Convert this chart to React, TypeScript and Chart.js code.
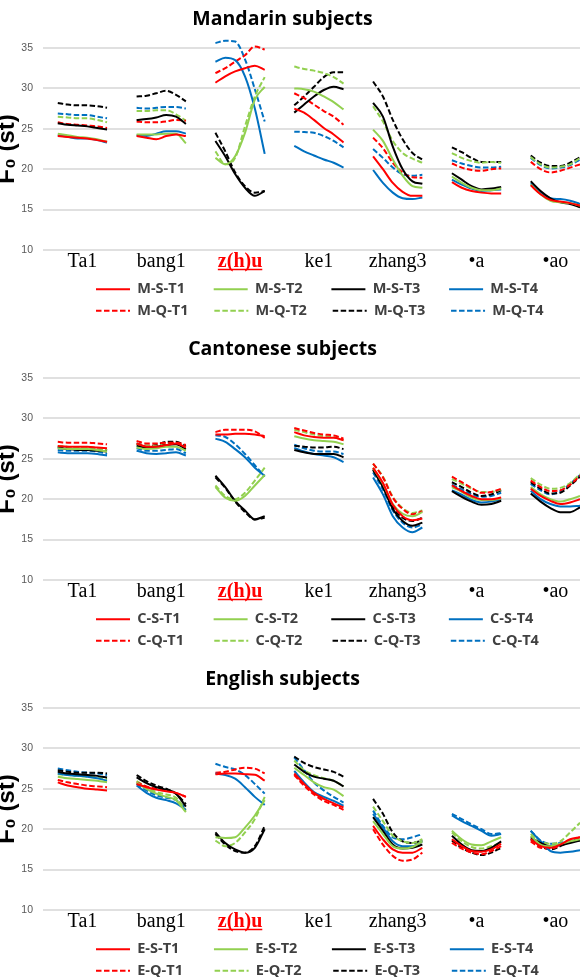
import React, { useEffect, useRef } from 'react';
import { Chart, registerables } from 'chart.js';

Chart.register(...registerables);

// ---------- categories / ticks ----------
const syllables = ['Ta1', 'bang1', 'z(h)u', 'ke1', 'zhang3', '•a', '•ao'];
const highlightIndex = 2;
const yTickValues = [10, 15, 20, 25, 30, 35];
const seriesKeys = ['S-T1', 'S-T2', 'S-T3', 'S-T4', 'Q-T1', 'Q-T2', 'Q-T3', 'Q-T4'];
const panelTitles = ['Mandarin subjects', 'Cantonese subjects', 'English subjects'];
const panelPrefixes = ['M', 'C', 'E'];

// ---------- Mandarin (rows = syllables, 6 samples each) ----------
const M_S_T1 = [
  [24.1, 24.0, 23.9, 23.8, 23.6, 23.4],
  [24.1, 23.9, 23.7, 24.1, 24.3, 24.1],
  [30.7, 31.5, 32.1, 32.5, 32.8, 32.3],
  [27.5, 27.0, 26.1, 25.1, 24.3, 23.3],
  [21.6, 20.0, 18.3, 17.2, 16.7, 16.7],
  [18.4, 17.7, 17.3, 17.1, 17.0, 17.0],
  [18.0, 16.9, 16.2, 16.0, 15.8, 15.5],
];
const M_S_T2 = [
  [24.4, 24.2, 24.0, 23.9, 23.7, 23.4],
  [24.3, 24.3, 24.3, 24.4, 24.4, 23.2],
  [21.4, 20.6, 21.6, 24.5, 28.6, 30.2],
  [30.0, 29.9, 29.6, 29.0, 28.3, 27.4],
  [24.9, 23.5, 21.2, 19.2, 17.9, 17.7],
  [19.1, 18.3, 17.7, 17.4, 17.4, 17.6],
  [18.1, 16.9, 16.1, 15.9, 15.8, 15.5],
];
const M_S_T3 = [
  [25.7, 25.5, 25.4, 25.3, 25.1, 24.9],
  [26.1, 26.2, 26.4, 26.7, 26.5, 25.6],
  [23.5, 21.6, 19.4, 17.7, 16.7, 17.3],
  [27.0, 28.0, 29.0, 29.8, 30.2, 29.9],
  [28.2, 26.5, 22.8, 20.0, 18.5, 18.2],
  [19.5, 18.7, 17.9, 17.5, 17.6, 17.8],
  [18.5, 17.3, 16.4, 15.9, 15.7, 15.3],
];
const M_S_T4 = [
  [24.2, 24.0, 23.8, 23.8, 23.6, 23.3],
  [24.2, 24.1, 24.4, 24.7, 24.7, 24.4],
  [33.3, 33.8, 33.5, 31.5, 27.5, 21.9],
  [22.9, 22.2, 21.7, 21.2, 20.8, 20.2],
  [19.9, 18.3, 17.1, 16.4, 16.3, 16.5],
  [18.7, 18.1, 17.6, 17.3, 17.4, 17.5],
  [18.25, 17.1, 16.4, 16.3, 16.1, 15.7],
];
const M_Q_T1 = [
  [25.8, 25.6, 25.5, 25.4, 25.3, 25.1],
  [25.9, 25.8, 25.8, 25.9, 26.1, 26.0],
  [31.9, 32.5, 33.3, 34.1, 35.2, 34.8],
  [29.4, 28.8, 28.0, 27.2, 26.5, 25.5],
  [23.9, 22.6, 20.8, 19.6, 19.0, 18.95],
  [20.7, 20.2, 19.9, 19.8, 20.0, 20.1],
  [20.9, 20.0, 19.6, 19.8, 20.2, 20.6],
];
const M_Q_T2 = [
  [26.5, 26.4, 26.3, 26.3, 26.1, 25.8],
  [27.2, 27.2, 27.3, 27.3, 26.8, 26.0],
  [22.2, 20.6, 21.4, 25.3, 29.0, 31.4],
  [32.7, 32.4, 32.2, 31.9, 31.4, 30.6],
  [27.8, 25.9, 23.5, 22.0, 21.3, 20.8],
  [22.0, 21.4, 21.0, 20.8, 20.9, 20.8],
  [21.5, 20.6, 20.2, 20.3, 20.6, 21.4],
];
const M_Q_T3 = [
  [28.2, 28.0, 27.9, 27.9, 27.8, 27.6],
  [29.0, 29.1, 29.4, 29.7, 29.2, 28.4],
  [24.5, 22.2, 19.6, 17.9, 17.1, 17.3],
  [27.9, 29.0, 30.2, 31.4, 32.0, 32.0],
  [30.85, 29.0, 26.1, 23.7, 22.0, 21.2],
  [22.7, 22.1, 21.4, 20.9, 20.9, 20.9],
  [21.7, 20.8, 20.4, 20.4, 20.8, 21.5],
];
const M_Q_T4 = [
  [26.9, 26.8, 26.7, 26.7, 26.5, 26.3],
  [27.6, 27.5, 27.6, 27.7, 27.7, 27.5],
  [35.6, 35.9, 35.8, 33.6, 29.9, 25.9],
  [24.65, 24.6, 24.5, 24.1, 23.5, 22.7],
  [22.5, 21.4, 20.2, 19.4, 19.2, 19.3],
  [21.1, 20.7, 20.4, 20.2, 20.2, 20.3],
  [21.4, 20.5, 20.1, 20.2, 20.5, 21.2],
];

// ---------- Cantonese ----------
const C_S_T1 = [
  [26.6, 26.5, 26.5, 26.5, 26.4, 26.3],
  [26.9, 26.5, 26.5, 26.7, 26.9, 26.4],
  [28.0, 28.0, 28.1, 28.1, 28.0, 27.8],
  [28.3, 27.9, 27.7, 27.6, 27.6, 27.3],
  [23.9, 22.0, 19.3, 17.9, 17.4, 17.6],
  [21.7, 21.0, 20.4, 20.0, 20.0, 20.2],
  [21.3, 20.4, 19.8, 19.4, 19.6, 20.0],
];
const C_S_T2 = [
  [26.3, 26.2, 26.2, 26.2, 26.1, 25.9],
  [26.4, 26.2, 26.3, 26.5, 26.5, 26.0],
  [21.5, 20.2, 19.8, 20.4, 21.7, 23.0],
  [27.8, 27.5, 27.3, 27.2, 27.1, 26.8],
  [23.9, 21.9, 19.4, 18.2, 17.9, 18.4],
  [21.5, 20.9, 20.2, 19.9, 19.9, 20.1],
  [21.5, 20.6, 20.0, 19.7, 20.0, 20.4],
];
const C_S_T3 = [
  [26.4, 26.2, 26.1, 26.1, 26.0, 25.9],
  [26.6, 26.4, 26.5, 26.7, 26.8, 26.2],
  [22.9, 21.5, 19.8, 18.6, 17.5, 17.9],
  [26.1, 25.8, 25.6, 25.6, 25.6, 25.2],
  [23.6, 21.5, 18.8, 17.3, 16.7, 17.1],
  [21.0, 20.3, 19.7, 19.3, 19.4, 19.8],
  [20.7, 19.7, 18.9, 18.4, 18.4, 19.0],
];
const C_S_T4 = [
  [25.8, 25.7, 25.7, 25.7, 25.6, 25.4],
  [26.0, 25.7, 25.6, 25.7, 25.8, 25.4],
  [27.5, 27.1, 26.2, 25.2, 23.9, 22.9],
  [26.35, 25.9, 25.6, 25.4, 25.2, 24.6],
  [22.7, 20.6, 17.9, 16.5, 15.9, 16.5],
  [21.1, 20.55, 19.9, 19.6, 19.7, 20.0],
  [21.05, 20.0, 19.4, 19.1, 19.1, 19.2],
];
const C_Q_T1 = [
  [27.1, 27.0, 27.0, 27.0, 26.9, 26.8],
  [27.2, 26.9, 26.9, 27.0, 27.0, 26.7],
  [28.3, 28.6, 28.6, 28.6, 28.4, 27.6],
  [28.8, 28.5, 28.2, 28.0, 27.9, 27.5],
  [24.4, 22.7, 20.2, 18.8, 18.15, 18.5],
  [22.8, 22.1, 21.4, 20.8, 20.9, 21.3],
  [22.3, 21.5, 21.0, 21.1, 21.8, 22.9],
];
const C_Q_T2 = [
  [26.6, 26.5, 26.4, 26.4, 26.3, 26.1],
  [26.8, 26.6, 26.6, 26.8, 26.9, 26.4],
  [21.7, 20.4, 20.0, 20.8, 22.3, 23.9],
  [28.6, 28.3, 28.0, 27.8, 27.7, 27.3],
  [24.4, 22.8, 20.3, 18.9, 18.3, 18.6],
  [22.5, 21.9, 21.3, 20.9, 20.9, 21.2],
  [22.6, 21.8, 21.3, 21.4, 22.0, 23.1],
];
const C_Q_T3 = [
  [26.5, 26.4, 26.3, 26.4, 26.3, 26.1],
  [26.9, 26.6, 26.7, 27.1, 27.1, 26.6],
  [22.7, 21.4, 19.7, 18.4, 17.5, 17.7],
  [26.6, 26.5, 26.4, 26.4, 26.5, 26.2],
  [23.7, 21.6, 19.0, 17.7, 17.3, 17.7],
  [22.1, 21.5, 20.8, 20.4, 20.6, 21.1],
  [22.1, 21.3, 20.7, 20.8, 21.7, 22.8],
];
const C_Q_T4 = [
  [26.1, 26.0, 26.0, 26.0, 25.9, 25.6],
  [26.3, 26.0, 26.0, 26.1, 26.2, 25.7],
  [27.9, 27.7, 26.8, 25.6, 24.2, 22.8],
  [26.75, 26.3, 26.0, 25.9, 25.9, 25.6],
  [23.3, 21.2, 18.6, 17.1, 16.5, 16.9],
  [21.8, 21.2, 20.6, 20.3, 20.4, 20.8],
  [21.9, 21.1, 20.6, 21.0, 21.9, 23.0],
];

// ---------- English ----------
const E_S_T1 = [
  [25.8, 25.4, 25.2, 25.0, 24.9, 24.8],
  [25.6, 25.2, 24.9, 24.7, 24.5, 24.0],
  [26.8, 26.9, 26.9, 26.8, 26.75, 26.0],
  [26.9, 25.6, 24.5, 23.75, 23.2, 22.7],
  [20.4, 18.75, 17.5, 17.1, 17.1, 17.7],
  [18.75, 17.9, 17.3, 17.2, 17.5, 18.2],
  [18.75, 17.9, 17.7, 18.1, 18.75, 19.0],
];
const E_S_T2 = [
  [26.5, 26.3, 26.2, 26.1, 26.0, 25.8],
  [25.8, 25.0, 24.4, 24.0, 23.6, 22.1],
  [19.0, 18.9, 19.0, 20.2, 21.7, 23.6],
  [27.6, 26.7, 25.8, 25.2, 24.9, 24.1],
  [21.0, 19.4, 17.9, 17.6, 17.8, 18.5],
  [19.8, 18.75, 18.1, 18.0, 18.5, 19.0],
  [19.2, 18.1, 17.9, 18.2, 18.5, 18.75],
];
const E_S_T3 = [
  [27.1, 26.9, 26.8, 26.7, 26.6, 26.4],
  [26.4, 25.7, 25.2, 24.9, 24.4, 22.8],
  [19.6, 18.3, 17.5, 17.1, 17.7, 20.0],
  [28.0, 27.1, 26.5, 26.25, 26.0, 25.3],
  [21.5, 19.8, 18.1, 17.6, 17.7, 18.1],
  [19.2, 18.1, 17.4, 17.3, 17.7, 18.5],
  [19.0, 18.3, 17.9, 18.0, 18.3, 18.6],
];
const E_S_T4 = [
  [26.9, 26.7, 26.6, 26.5, 26.3, 26.0],
  [25.4, 24.5, 23.9, 23.6, 23.2, 22.4],
  [26.9, 26.7, 26.25, 25.2, 24.0, 23.0],
  [27.2, 25.8, 24.6, 24.0, 23.5, 22.9],
  [21.9, 20.2, 18.5, 17.9, 17.9, 18.5],
  [21.7, 21.0, 20.4, 19.8, 19.2, 19.4],
  [19.8, 18.5, 17.3, 17.1, 17.2, 17.4],
];
const E_Q_T1 = [
  [26.1, 25.8, 25.6, 25.4, 25.3, 25.2],
  [25.8, 25.3, 25.0, 24.8, 24.5, 24.0],
  [27.0, 27.1, 27.4, 27.6, 27.5, 26.9],
  [26.7, 25.4, 24.3, 23.5, 23.0, 22.4],
  [20.0, 18.1, 16.7, 16.1, 16.25, 17.1],
  [18.3, 17.6, 17.1, 16.9, 17.3, 17.9],
  [18.5, 17.7, 17.6, 18.0, 18.5, 19.0],
];
const E_Q_T2 = [
  [26.8, 26.7, 26.6, 26.5, 26.4, 26.2],
  [25.95, 25.2, 24.6, 24.3, 23.9, 22.3],
  [18.6, 17.9, 18.3, 19.6, 21.25, 24.0],
  [28.5, 27.3, 26.7, 26.3, 26.0, 25.3],
  [22.8, 21.0, 19.2, 18.5, 18.3, 18.75],
  [19.6, 18.5, 17.8, 17.6, 17.9, 18.3],
  [19.4, 18.5, 18.2, 18.5, 19.6, 20.8],
];
const E_Q_T3 = [
  [27.3, 27.1, 27.0, 27.0, 27.0, 26.9],
  [26.7, 25.95, 25.4, 25.0, 24.4, 23.1],
  [19.4, 18.1, 17.3, 17.1, 17.9, 20.4],
  [29.0, 28.2, 27.7, 27.4, 27.1, 26.5],
  [23.75, 21.9, 19.6, 18.5, 18.3, 18.6],
  [18.6, 17.7, 17.1, 16.8, 17.1, 17.7],
  [18.75, 17.9, 17.5, 17.9, 18.5, 18.6],
];
const E_Q_T4 = [
  [27.5, 27.3, 27.1, 27.0, 26.9, 26.7],
  [25.6, 24.8, 24.2, 23.9, 23.6, 22.6],
  [28.1, 27.7, 27.4, 26.7, 25.6, 24.4],
  [28.9, 27.3, 25.8, 24.8, 24.0, 23.3],
  [22.3, 20.4, 19.0, 18.75, 19.0, 19.4],
  [21.9, 21.25, 20.6, 20.0, 19.4, 19.5],
  [19.8, 18.6, 18.2, 18.3, 18.6, 19.0],
];

const panelSeries = [
  [M_S_T1, M_S_T2, M_S_T3, M_S_T4, M_Q_T1, M_Q_T2, M_Q_T3, M_Q_T4],
  [C_S_T1, C_S_T2, C_S_T3, C_S_T4, C_Q_T1, C_Q_T2, C_Q_T3, C_Q_T4],
  [E_S_T1, E_S_T2, E_S_T3, E_S_T4, E_Q_T1, E_Q_T2, E_Q_T3, E_Q_T4],
];

// ---------- styles ----------
const toneColors = ['#FF0000', '#92D050', '#000000', '#0070C0'];
const DASH = [5.5, 2.5];
const SPAN = 16; // x units per syllable slot
const SAMPLE_STEP = 2; // x units between samples
const CENTER_OFFSET = 5;
const LEGEND_FONT_SIZE = 14.5;
const LEGEND_FONT = `bold ${LEGEND_FONT_SIZE}px "Open Sans", sans-serif`;
const LEGEND_LINE_W = 34;
const LEGEND_PAD = 7;
const LEGEND_PITCH = 117.6;

function toPoints(rows: number[][]) {
  const pts: any[] = [];
  rows.forEach((row, i) => {
    row.forEach((v, j) => pts.push({ x: i * SPAN + j * SAMPLE_STEP, y: v }));
    if (i < rows.length - 1) pts.push({ x: i * SPAN + 12, y: null });
  });
  return pts;
}

function padText(ctx: CanvasRenderingContext2D, text: string, target: number) {
  ctx.save();
  ctx.font = LEGEND_FONT;
  let t = text;
  let n = 0;
  while (ctx.measureText(t).width < target && n < 200) {
    t += '\u200A';
    n++;
  }
  ctx.restore();
  return t;
}

const tweaks = {
  id: 'tweaks',
  afterLayout(chart: any, _a: any, opts: any) {
    const t = chart.titleBlock;
    if (t) { t.left += opts.titleShift; t.right += opts.titleShift; }
    const l = chart.legend;
    if (l) { l.left += opts.legendShift; l.right += opts.legendShift; }
  },
  afterDraw(chart: any) {
    const xs = chart.scales.x;
    const ctx = chart.ctx;
    const px = xs.getPixelForValue(highlightIndex * SPAN + CENTER_OFFSET);
    ctx.save();
    ctx.font = 'bold 20px "Liberation Serif"';
    const w = ctx.measureText(syllables[highlightIndex]).width;
    ctx.strokeStyle = '#FF0000';
    ctx.lineWidth = 1.5;
    ctx.beginPath();
    ctx.moveTo(px - w / 2, xs.top + 19.5);
    ctx.lineTo(px + w / 2, xs.top + 19.5);
    ctx.stroke();
    ctx.restore();
  },
};

function Panel({ index, top }: { index: number; top: number }) {
  const ref = useRef<HTMLCanvasElement>(null);
  useEffect(() => {
    const prefix = panelPrefixes[index];
    const datasets = panelSeries[index].map((rows, k) => ({
      label: `${prefix}-${seriesKeys[k]}`,
      data: toPoints(rows),
      borderColor: toneColors[k % 4],
      backgroundColor: toneColors[k % 4],
      borderWidth: 2,
      borderDash: k >= 4 ? DASH : [],
      pointRadius: 0,
      pointHoverRadius: 0,
      cubicInterpolationMode: 'monotone',
      spanGaps: false,
      clip: false,
      fill: false,
    }));
    const textTarget = LEGEND_PITCH - LEGEND_LINE_W - LEGEND_FONT_SIZE / 2 - LEGEND_PAD;
    const chart = new Chart(ref.current as HTMLCanvasElement, {
      type: 'line',
      data: { datasets },
      plugins: [tweaks],
      options: {
        animation: false,
        responsive: false,
        events: [],
        layout: { autoPadding: false, padding: { top: 0, left: 0, right: 0, bottom: 2 } },
        elements: { line: { capBezierPoints: false } },
        scales: {
          x: {
            type: 'linear',
            min: -3,
            max: 106,
            grid: { display: false, drawTicks: false },
            border: { display: false },
            afterBuildTicks: (s: any) => {
              s.ticks = syllables.map((_, i) => ({ value: i * SPAN + CENTER_OFFSET }));
            },
            afterFit: (s: any) => { s.height = 25; },
            ticks: {
              autoSkip: false,
              maxRotation: 0,
              padding: 0,
              callback: (_v: any, i: number) => syllables[i],
              color: (c: any) => (c.index === highlightIndex ? '#FF0000' : '#000000'),
              font: (c: any) => ({
                family: '"Liberation Serif", "Times New Roman", serif',
                size: 20,
                weight: c.index === highlightIndex ? 'bold' : 'normal',
                lineHeight: 1.2,
              }),
            },
          },
          y: {
            min: 10,
            max: 35,
            afterBuildTicks: (s: any) => { s.ticks = yTickValues.map((v) => ({ value: v })); },
            afterFit: (s: any) => { s.width = 43; },
            grid: { color: '#e0e0e0', lineWidth: 2, drawTicks: false },
            border: { display: false },
            ticks: {
              padding: 10,
              color: '#595959',
              font: { family: '"Liberation Sans", Arial, sans-serif', size: 10.5 },
            },
            title: {
              display: true,
              text: 'F₀ (st)',
              color: '#000000',
              font: { family: '"Liberation Sans", Arial, sans-serif', size: 24, weight: 'bold', lineHeight: 1 },
              padding: { top: -5, bottom: 0 },
            },
          },
        },
        plugins: {
          tweaks: { titleShift: -7.5, legendShift: 89 },
          tooltip: { enabled: false },
          title: {
            display: true,
            text: panelTitles[index],
            color: '#000000',
            font: { family: '"Open Sans", sans-serif', size: 19.5, weight: 'bold', lineHeight: 1.2 },
            padding: { top: 8, bottom: 16.6 },
          },
          legend: {
            display: true,
            position: 'bottom',
            align: 'start',
            labels: {
              usePointStyle: true,
              pointStyleWidth: LEGEND_LINE_W,
              padding: LEGEND_PAD,
              color: '#404040',
              font: { family: '"Open Sans", sans-serif', size: LEGEND_FONT_SIZE, weight: 'bold' },
              generateLabels: (ch: any) =>
                ch.data.datasets.map((d: any, i: number) => ({
                  text: padText(ch.ctx, d.label, textTarget),
                  strokeStyle: d.borderColor,
                  fillStyle: d.borderColor,
                  lineWidth: 2,
                  lineDash: d.borderDash,
                  pointStyle: 'line',
                  fontColor: '#404040',
                  hidden: false,
                  datasetIndex: i,
                })),
            },
          },
        },
      } as any,
    });
    return () => chart.destroy();
  }, [index]);
  return (
    <canvas
      ref={ref}
      width={580}
      height={330}
      style={{ position: 'absolute', left: 0, top, width: 580, height: 330, display: 'block' }}
    />
  );
}

export default function App() {
  return (
    <div
      style={{
        position: 'absolute',
        left: 0,
        top: 0,
        width: 580,
        height: 977,
        overflow: 'hidden',
        background: '#ffffff',
      }}
    >
      <Panel index={0} top={0} />
      <Panel index={1} top={330} />
      <Panel index={2} top={660} />
    </div>
  );
}
